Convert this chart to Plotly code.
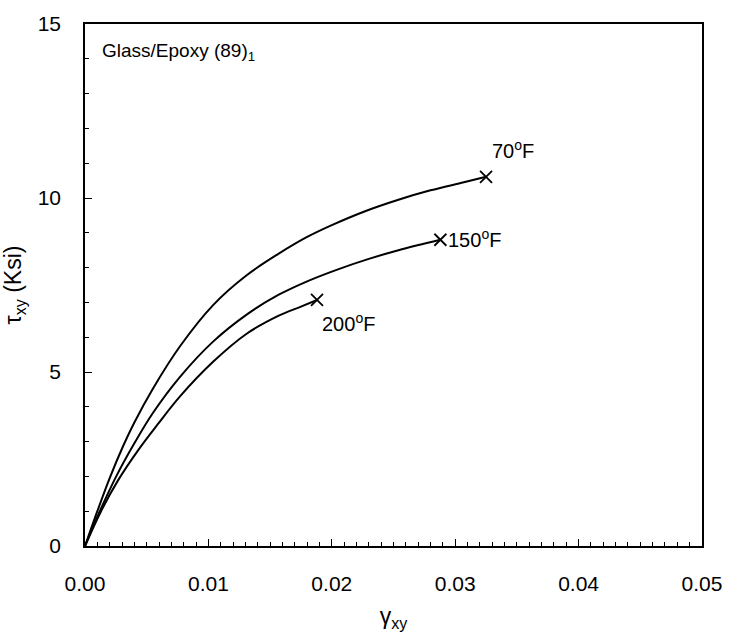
import plotly.graph_objects as go

# Shear stress-strain curves for Glass/Epoxy (89)_1 at three temperatures
strain_70 = [0, 0.001, 0.002, 0.0031, 0.004, 0.0055, 0.0077, 0.0104, 0.0131,
             0.0157, 0.0180, 0.0200, 0.0227, 0.0254, 0.0280, 0.0307, 0.0325]
stress_70 = [0, 1.0, 1.95, 2.88, 3.55, 4.52, 5.74, 6.93, 7.78,
             8.40, 8.88, 9.22, 9.62, 9.95, 10.22, 10.45, 10.61]

strain_150 = [0, 0.0012, 0.0025, 0.004, 0.0055, 0.0077, 0.0104, 0.0131,
              0.0157, 0.0181, 0.0205, 0.0230, 0.0254, 0.0288]
stress_150 = [0, 1.0, 1.98, 2.95, 3.82, 4.86, 5.88, 6.65,
              7.22, 7.62, 7.95, 8.25, 8.50, 8.80]

strain_200 = [0, 0.0013, 0.0027, 0.0043, 0.0059, 0.0077, 0.0104, 0.0131,
              0.0157, 0.0175, 0.0188]
stress_200 = [0, 1.0, 1.9, 2.75, 3.5, 4.3, 5.30, 6.1,
              6.62, 6.88, 7.07]

curve_labels = ["70<sup>o</sup>F", "150<sup>o</sup>F", "200<sup>o</sup>F"]

FONT = "Liberation Sans, Arial, sans-serif"

fig = go.Figure()

series = [(strain_70, stress_70), (strain_150, stress_150), (strain_200, stress_200)]
for xs, ys in series:
    fig.add_trace(go.Scatter(
        x=xs, y=ys, mode="lines",
        line=dict(color="black", width=2, shape="spline", smoothing=1.0),
        showlegend=False, hoverinfo="skip",
    ))

# failure points at the end of each curve
fig.add_trace(go.Scatter(
    x=[s[0][-1] for s in series], y=[s[1][-1] for s in series],
    mode="markers",
    marker=dict(symbol="x-thin", size=12, line=dict(color="black", width=1.8)),
    showlegend=False, hoverinfo="skip",
))

# temperature labels next to the end points
label_offsets = [
    dict(xanchor="left", yanchor="bottom", xshift=4, yshift=13),
    dict(xanchor="left", yanchor="middle", xshift=6, yshift=1),
    dict(xanchor="left", yanchor="top", xshift=3, yshift=-8),
]
for (xs, ys), text, off in zip(series, curve_labels, label_offsets):
    fig.add_annotation(x=xs[-1], y=ys[-1], text=text, showarrow=False,
                       font=dict(family=FONT, size=20, color="black"), **off)

fig.add_annotation(x=0.0012, y=14.2, text="Glass/Epoxy (89)<sub>1</sub>",
                   showarrow=False, xanchor="left", yanchor="middle",
                   font=dict(family=FONT, size=19, color="black"))

axis_common = dict(
    showgrid=False, zeroline=False,
    showline=True, linecolor="black", linewidth=1.5, mirror=True,
    ticks="inside", ticklen=7, tickwidth=1.2, tickcolor="black",
    tickfont=dict(family=FONT, size=21, color="black"),
)

fig.update_xaxes(
    range=[0, 0.05], tickmode="linear", tick0=0, dtick=0.01, tickformat=".2f",
    minor=dict(dtick=0.001, ticks="inside", ticklen=4, tickcolor="black", tickwidth=1),
    title=dict(text="γ<sub>xy</sub>", font=dict(family=FONT, size=23, color="black"), standoff=14),
    ticklabelstandoff=18,
    **axis_common,
)
fig.update_yaxes(
    range=[0, 15], tickmode="linear", tick0=0, dtick=5,
    minor=dict(dtick=1, ticks="inside", ticklen=4, tickcolor="black", tickwidth=1),
    title=dict(text="τ<sub>xy</sub> (Ksi)", font=dict(family=FONT, size=23, color="black"), standoff=10),
    ticklabelstandoff=18,
    **axis_common,
)

fig.update_layout(
    width=734, height=637,
    margin=dict(l=84, r=27, t=20, b=87),
    plot_bgcolor="white", paper_bgcolor="white",
    font=dict(family=FONT, color="black"),
)

fig.write_html("out.html")
